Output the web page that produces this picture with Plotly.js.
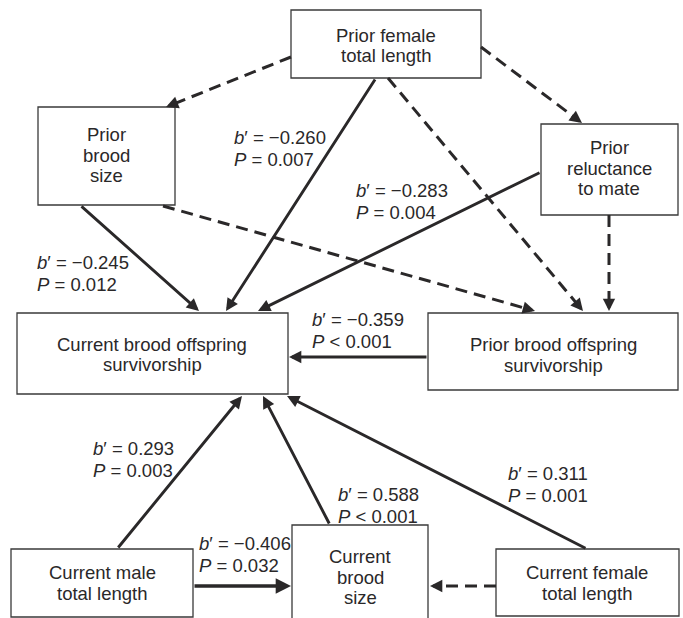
<!DOCTYPE html>
<html>
<head>
<meta charset="utf-8">
<script src="https://cdn.plot.ly/plotly-3.0.1.min.js"></script>
<style>html,body{margin:0;padding:0;background:#fff;}#chart{width:683px;height:618px;}</style>
</head>
<body>
<div id="chart"></div>
<script>
// ---- data ----
const nodeLabels = [
  "Prior female<br>total length",
  "Prior<br>brood<br>size",
  "Prior<br>reluctance<br>to mate",
  "Current brood offspring<br>survivorship",
  "Prior brood offspring<br>survivorship",
  "Current male<br>total length",
  "Current<br>brood<br>size",
  "Current female<br>total length"
];
const edgeFrom = [0, 0, 0, 0, 1, 1, 2, 2, 4, 5, 6, 7, 5, 7];
const edgeTo   = [1, 2, 3, 4, 3, 4, 3, 4, 3, 3, 3, 3, 6, 6];
const edgeB    = [null, null, -0.260, null, -0.245, null, -0.283, null, -0.359, 0.293, 0.588, 0.311, -0.406, null];
const edgePOp  = [null, null, "=", null, "=", null, "=", null, "<", "=", "<", "=", "=", null];
const edgeP    = [null, null, 0.007, null, 0.012, null, 0.004, null, 0.001, 0.003, 0.001, 0.001, 0.032, null];

// ---- layout geometry (pixel space) ----
const boxGeom = [
  [291, 10, 481, 78],
  [38, 107, 175, 205],
  [541, 124, 678, 215],
  [17, 313, 288, 394],
  [428, 313, 678, 390],
  [11, 549, 193, 617],
  [292, 525, 428, 640],
  [496, 549, 679, 616]
];
const boxTextCenter = [[386, 45.5], [106, 155], [609, 168], [152, 354.5], [553, 355], [102, 583], [360, 577], [587, 583]];
const boxLineGap = 20.5;
const edgeStart = [[291,57],[481,47],[376,78],[388,78],[80,205],[163,206],[541,172],[609,215],[428,357],[117,549],[330,525],[587,549],[193,586],[496,586]];
const edgeTip   = [[166,107],[582,123],[226,311],[583,311],[199,311],[535,311],[258,311],[609,311],[289,357],[242,396],[263,396],[287,396],[291,586],[430,586]];
const labelPos  = [null,null,[232,137],null,[35,262],null,[354,190],null,[310,319],[91,448],[336,494],[506,473],[197,543],null];
const labelGap = 22.5;

const ink = "#2a2829";
const fontFam = "Liberation Sans, Arial, Helvetica, sans-serif";
const fsize = 18.5;

const shapes = [];
const annotations = [];

// boxes
boxGeom.forEach((g, i) => {
  shapes.push({type: "rect", xref: "x", yref: "y", x0: g[0], y0: g[1], x1: g[2], y1: g[3],
    line: {color: "#3a3a3a", width: 1.3}, fillcolor: "rgba(255,255,255,0)", layer: "above"});
  const lines = nodeLabels[i].split("<br>");
  const c = boxTextCenter[i];
  lines.forEach((t, k) => {
    annotations.push({x: c[0], y: c[1] + (k - (lines.length - 1) / 2) * boxLineGap, xref: "x", yref: "y",
      text: t, showarrow: false, xanchor: "center", yanchor: "middle",
      font: {family: fontFam, size: fsize, color: ink}});
  });
});

// edges
edgeFrom.forEach((f, i) => {
  const s = edgeStart[i], t = edgeTip[i];
  const sig = edgeB[i] !== null;
  const dx = t[0] - s[0], dy = t[1] - s[1];
  const L = Math.hypot(dx, dy);
  const ux = dx / L, uy = dy / L;
  if (sig) {
    annotations.push({x: t[0], y: t[1], ax: s[0], ay: s[1], xref: "x", yref: "y", axref: "x", ayref: "y",
      text: "", showarrow: true, arrowhead: 2, arrowsize: 0.85, arrowwidth: (i === 12 ? 3.6 : 2.9),
      arrowcolor: ink, standoff: 0, startstandoff: 0});
  } else {
    shapes.push({type: "line", xref: "x", yref: "y", x0: s[0], y0: s[1], x1: t[0] - ux * 8, y1: t[1] - uy * 8,
      line: {color: ink, width: 3, dash: "12px,7px"}});
    annotations.push({x: t[0], y: t[1], ax: t[0] - ux * 9, ay: t[1] - uy * 9, xref: "x", yref: "y", axref: "x", ayref: "y",
      text: "", showarrow: true, arrowhead: 2, arrowsize: 0.85, arrowwidth: 2.9,
      arrowcolor: ink, standoff: 0, startstandoff: 0});
  }
  if (sig) {
    const p = labelPos[i];
    const bTxt = edgeB[i].toFixed(3).replace("-", "\u2212");
    annotations.push({x: p[0], y: p[1], xref: "x", yref: "y", text: "<i>b</i>\u2032 = " + bTxt,
      showarrow: false, xanchor: "left", yanchor: "middle", font: {family: fontFam, size: fsize, color: ink}});
    annotations.push({x: p[0], y: p[1] + labelGap, xref: "x", yref: "y", text: "<i>P</i> " + edgePOp[i] + " " + edgeP[i].toFixed(3),
      showarrow: false, xanchor: "left", yanchor: "middle", font: {family: fontFam, size: fsize, color: ink}});
  }
});

const layout = {
  width: 683, height: 618,
  margin: {l: 0, r: 0, t: 0, b: 0},
  paper_bgcolor: "#ffffff", plot_bgcolor: "#ffffff",
  xaxis: {range: [0, 683], visible: false, fixedrange: true},
  yaxis: {range: [618, 0], visible: false, fixedrange: true},
  shapes: shapes, annotations: annotations, showlegend: false
};
Plotly.newPlot("chart", [{x: [], y: [], type: "scatter", mode: "markers"}], layout, {displayModeBar: false, staticPlot: true});
</script>
</body>
</html>
